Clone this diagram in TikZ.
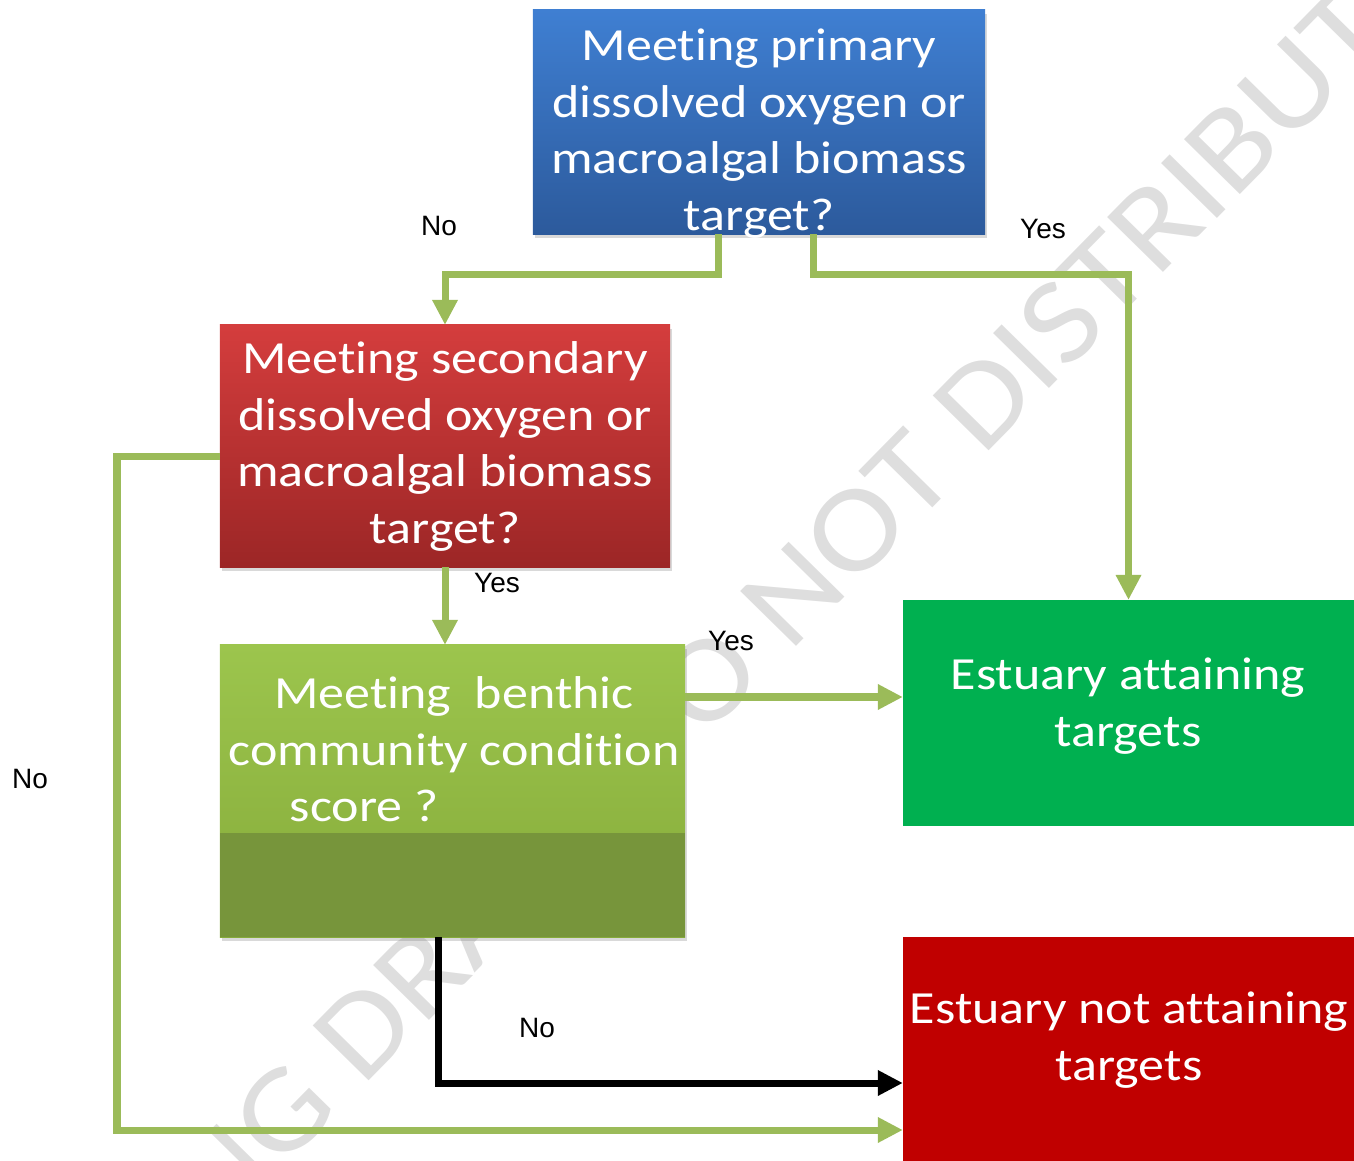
\documentclass[tikz,border=0pt]{standalone}
\usepackage{fontspec}
\usetikzlibrary{arrows.meta,shadows}
\newfontfamily\boxfont[FakeStretch=1.13,Ligatures=NoCommon]{Carlito}
\newfontfamily\lblfont{Liberation Sans}
\newfontfamily\wmfont[FakeStretch=1.13,Ligatures=NoCommon]{Carlito}
\definecolor{blueT}{HTML}{3F7FD2}
\definecolor{blueB}{HTML}{2C5A9C}
\definecolor{redT}{HTML}{D43D3D}
\definecolor{redB}{HTML}{9C2626}
\definecolor{bentT}{HTML}{9CC54D}
\definecolor{bentB}{HTML}{86AB3A}
\definecolor{bentD}{HTML}{77953B}
\definecolor{attainc}{HTML}{00B050}
\definecolor{notc}{HTML}{C00000}
\definecolor{lineg}{HTML}{9BBB59}
\tikzset{
 flowbox/.style={rectangle, inner sep=0pt, outer sep=0pt},
 shad/.style={drop shadow={shadow xshift=0.02cm, shadow yshift=-0.04cm, opacity=0.3}},
 boxtext/.style={text=white, inner sep=0pt, anchor=north, align=center, font=\boxfont\fontsize{0.46cm}{0.565cm}\selectfont},
 garrow/.style={draw=lineg, line width=0.07cm, -{Triangle[length=0.25cm,width=0.24cm]}},
 karrow/.style={draw=black, line width=0.07cm, -{Triangle[length=0.25cm,width=0.24cm]}},
 lbl/.style={font=\lblfont\fontsize{0.28cm}{0.34cm}\selectfont, inner sep=0pt, anchor=base},
 wm/.style={text=black!13, font=\wmfont\fontsize{1.22cm}{1.4cm}\selectfont, inner sep=0pt}
}
\begin{document}
\begin{tikzpicture}[x=0.01cm,y=-0.01cm]
\useasboundingbox (0,0) rectangle (1354,1161);
\begin{scope}
\clip (0,0) rectangle (1354,1161);
% watermark
\node[wm, rotate=45.5, anchor=base west] (wmark) at (-59,1517) {WORKING DRAFT DO NOT DISTRIBUTE};
% boxes
\node[flowbox, shad, top color=blueT, bottom color=blueB, minimum width=4.52cm, minimum height=2.24cm] (blue) at (759,122) {};
\node[boxtext] (bluetext) at (759,20) {\rule{0pt}{0.40cm}Meeting primary\\dissolved oxygen or\\macroalgal biomass\\target?};
\node[flowbox, shad, top color=redT, bottom color=redB, minimum width=4.50cm, minimum height=2.42cm] (red) at (445,446) {};
\node[boxtext] (redtext) at (445,333) {\rule{0pt}{0.40cm}Meeting secondary\\dissolved oxygen or\\macroalgal biomass\\target?};
\node[flowbox, shad, top color=bentT, bottom color=bentB, minimum width=4.65cm, minimum height=2.92cm] (benthic) at (452.5,791) {};
\fill[bentD] (220,833) rectangle (685,937);
\node[boxtext] (benthictext) at (454,668) {\rule{0pt}{0.40cm}Meeting~ benthic\\community condition\\\makebox[3.28cm][l]{score ?}};
\node[flowbox, fill=attainc, minimum width=4.51cm, minimum height=2.26cm] (attain) at (1128.5,713) {};
\node[boxtext] (attaintext) at (1128,649) {\rule{0pt}{0.40cm}Estuary attaining\\targets};
\node[flowbox, fill=notc, minimum width=4.51cm, minimum height=2.40cm] (notatt) at (1128.5,1057) {};
\node[boxtext] (notatttext) at (1129,983) {\rule{0pt}{0.40cm}Estuary not attaining\\targets};
% connectors
\coordinate (b1) at (718,275);
\coordinate (b2) at (813,275);
\coordinate (yb) at (0,697);
\coordinate (c1) at (117,457);
\coordinate (c2) at (117,1130);
\coordinate (k1) at (438,1083);
\draw[garrow] (blue.south -| b1) -- (b1) -| (red.north);
\draw[garrow] (blue.south -| b2) -- (b2) -| (attain.north);
\draw[garrow] (red.south) -- (red.south |- benthic.north);
\draw[garrow] (benthic.east |- yb) -- (attain.west |- yb);
\draw[garrow] (red.west |- c1) -- (c1) -- (c2) -- (notatt.west |- c2);
\draw[karrow] (benthic.south -| k1) -- (k1) -- (notatt.west |- k1);
% labels
\node[lbl] (l1) at (439,236) {No};
\node[lbl] (l2) at (1043,239) {Yes};
\node[lbl] (l3) at (497,593) {Yes};
\node[lbl] (l4) at (731,650) {Yes};
\node[lbl] (l5) at (30,788) {No};
\node[lbl] (l6) at (537,1037) {No};
\end{scope}
\end{tikzpicture}
\end{document}
